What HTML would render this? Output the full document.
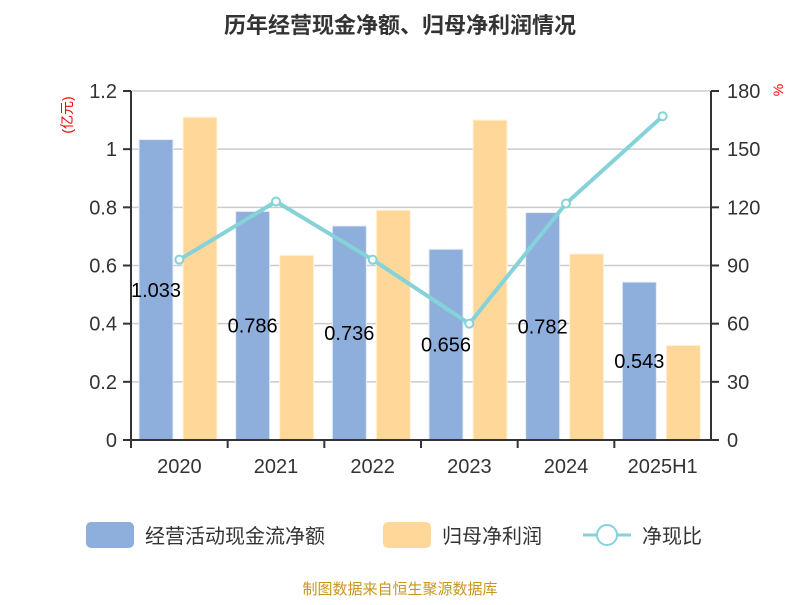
<!DOCTYPE html>
<html><head><meta charset="utf-8"><style>
body{margin:0;background:#fff;}
svg text{font-family:"Liberation Sans","Noto Sans CJK SC",sans-serif;}
</style></head><body>
<svg id="c" width="800" height="600" viewBox="0 0 800 600">
<text x="400" y="33" text-anchor="middle" font-size="22" font-weight="bold" fill="#333">历年经营现金净额、归母净利润情况</text>
<text transform="translate(72,115) rotate(-90)" text-anchor="middle" font-size="14" fill="#f00">(亿元)</text>
<text transform="translate(783,90) rotate(-90)" text-anchor="middle" font-size="14" fill="#f00">%</text>
<g id="grid"></g><g id="bars"></g><g id="line"></g><g id="axes"></g>
<g>
<rect x="86" y="522" width="48" height="26" rx="5" fill="#8eaedb"/>
<text x="145" y="543" font-size="20" fill="#333">经营活动现金流净额</text>
<rect x="383" y="522" width="48" height="26" rx="5" fill="#ffd899"/>
<text x="442" y="543" font-size="20" fill="#333">归母净利润</text>
<line x1="583" y1="535" x2="631" y2="535" stroke="#85d3d8" stroke-width="3"/>
<circle cx="607" cy="535" r="10" fill="#fff" stroke="#85d3d8" stroke-width="2"/>
<text x="642" y="543" font-size="20" fill="#333">净现比</text>
</g>
<text x="400" y="594" text-anchor="middle" font-size="15" fill="#c8961e">制图数据来自恒生聚源数据库</text>
</svg>
<script>
const categories=["2020","2021","2022","2023","2024","2025H1"];
const cashValues=[1.033,0.786,0.736,0.656,0.782,0.543];
const cashLabels=["1.033","0.786","0.736","0.656","0.782","0.543"];
const profitValues=[1.11,0.635,0.79,1.10,0.64,0.325];
const ratioValues=[93,123,93,60,122,167];
const leftTicks=["0","0.2","0.4","0.6","0.8","1","1.2"];
const rightTicks=["0","30","60","90","120","150","180"];
const NS="http://www.w3.org/2000/svg";
const X0=131,X1=711,Y0=440,Y1=91,cw=(X1-X0)/categories.length;
const yL=v=>Y0-v/1.2*(Y0-Y1), yR=v=>Y0-v/180*(Y0-Y1);
function mk(p,t,a){const e=document.createElementNS(NS,t);for(const k in a)e.setAttribute(k,a[k]);document.getElementById(p).appendChild(e);return e;}
leftTicks.forEach((t,i)=>{const y=yL(i*0.2);
 if(i>0){const g=mk("grid","line",{x1:X0,x2:X1,y1:y,y2:y,stroke:"#ccc","stroke-width":1.5});}
 const tk=mk("axes","line",{x1:X0-8,x2:X0,y1:y,y2:y,stroke:"#333","stroke-width":2});
 const tx=mk("axes","text",{x:X0-14,y:y+7,"text-anchor":"end","font-size":20,fill:"#333"});tx.textContent=t;});
rightTicks.forEach((t,i)=>{const y=yR(i*30);
 const tk=mk("axes","line",{x1:X1,x2:X1+8,y1:y,y2:y,stroke:"#333","stroke-width":2});
 const tx=mk("axes","text",{x:X1+16,y:y+7,"font-size":20,fill:"#333"});tx.textContent=t;});
let a=mk("axes","line",{x1:X0,x2:X0,y1:Y1,y2:Y0,stroke:"#333","stroke-width":2});
a=mk("axes","line",{x1:X1,x2:X1,y1:Y1,y2:Y0,stroke:"#333","stroke-width":2});
a=mk("axes","line",{x1:X0,x2:X1,y1:Y0,y2:Y0,stroke:"#333","stroke-width":2});
categories.forEach((c,i)=>{const x=X0+i*cw;
 const tk=mk("axes","line",{x1:x,x2:x,y1:Y0,y2:Y0+8,stroke:"#333","stroke-width":2});
 const tx=mk("axes","text",{x:x+cw/2,y:473,"text-anchor":"middle","font-size":20,fill:"#333"});tx.textContent=c;
 const b1=mk("bars","rect",{x:x+8,y:yL(cashValues[i]),width:34,height:Y0-yL(cashValues[i]),fill:"#8eaedb",stroke:"#e6eef8","stroke-width":1});
 const b2=mk("bars","rect",{x:x+52,y:yL(profitValues[i]),width:34,height:Y0-yL(profitValues[i]),fill:"#ffd899",stroke:"#fff3dc","stroke-width":1});
});
categories.forEach((c,i)=>{const x=X0+i*cw;
 const tx=mk("line","text",{x:x+25,y:(yL(cashValues[i])+Y0)/2+7,"text-anchor":"middle","font-size":20,fill:"#000"});tx.textContent=cashLabels[i];});
const pts=ratioValues.map((v,i)=>[X0+(i+0.5)*cw,yR(v)]);
const pl=mk("line","polyline",{points:pts.map(p=>p.join(",")).join(" "),fill:"none",stroke:"#85d3d8","stroke-width":4});
pts.forEach(p=>{const ci=mk("line","circle",{cx:p[0],cy:p[1],r:4,fill:"#fff",stroke:"#85d3d8","stroke-width":2});});
</script>
</body></html>
